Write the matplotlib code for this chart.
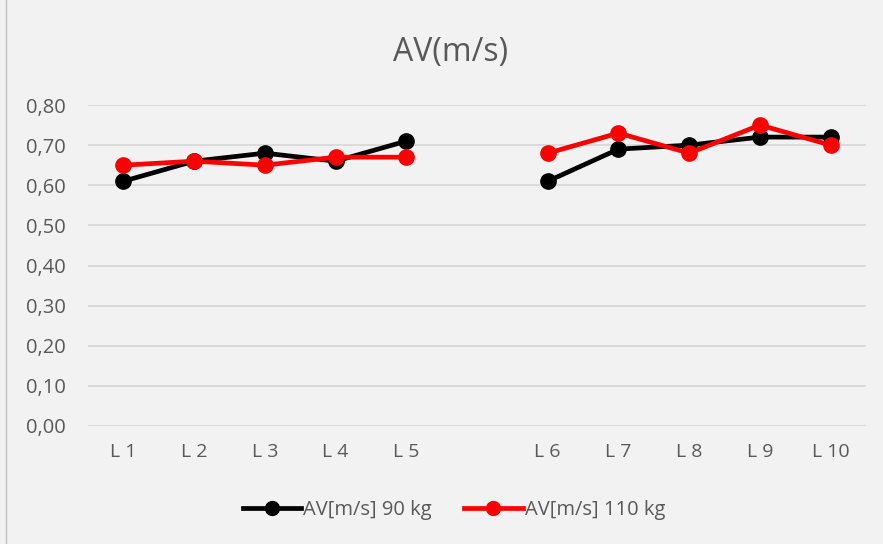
import numpy as np
import matplotlib
matplotlib.use("Agg")
import matplotlib.pyplot as plt
from matplotlib.lines import Line2D

# categories (empty slot between L 5 and L 6 like in the excel sheet)
labels = ["L 1", "L 2", "L 3", "L 4", "L 5", "", "L 6", "L 7", "L 8", "L 9", "L 10"]
av_90 = [0.61, 0.66, 0.68, 0.66, 0.71, np.nan, 0.61, 0.69, 0.70, 0.72, 0.72]
av_110 = [0.65, 0.66, 0.65, 0.67, 0.67, np.nan, 0.68, 0.73, 0.68, 0.75, 0.70]
yticks = [0.0, 0.1, 0.2, 0.3, 0.4, 0.5, 0.6, 0.7, 0.8]

plt.rcParams['font.family'] = ['Open Sans', 'DejaVu Sans']
txt = "#595959"
bg = "#f2f2f2"

fig = plt.figure(figsize=(8.83, 5.44), dpi=100, facecolor=bg)
ax = fig.add_axes([88/883, 1-426/544, (866-88)/883, 321/544])
ax.set_facecolor(bg)

x = np.arange(len(labels))
ax.plot(x, av_90, color="black", lw=3.4, marker="o", ms=11, clip_on=False, zorder=3)
ax.plot(x, av_110, color="#ff0000", lw=3.4, marker="o", ms=11, clip_on=False, zorder=4)

ax.set_xlim(-0.5, len(labels)-0.5)
ax.set_ylim(0, 0.8)
ax.set_yticks(yticks)
ax.set_yticklabels([f"{v:.2f}".replace(".", ",") for v in yticks], color=txt, fontsize=14.5)
ax.set_xticks(x)
ax.set_xticklabels(labels, color=txt, fontsize=14)
ax.tick_params(length=0, pad=12)
ax.tick_params(axis="y", pad=16)
ax.grid(axis="y", color="#d9d9d9", lw=1.3)
ax.set_axisbelow(True)
for s in ax.spines.values():
    s.set_visible(False)

fig.text(451/883, 1-52/544, "AV(m/s)", ha="center", va="center", fontsize=23, color=txt)

# left border of the chart box
fig.add_artist(Line2D([6/883, 6/883], [0, 1], color="#bfbfbf", lw=1))

handles = [Line2D([], [], color="black", lw=3.4, marker="o", ms=10),
           Line2D([], [], color="#ff0000", lw=3.4, marker="o", ms=10)]
fig.legend(handles, ["AV[m/s] 90 kg", "AV[m/s] 110 kg"], loc="center",
           bbox_to_anchor=(454/883, 1-510/544), ncol=2, frameon=False,
           fontsize=14.5, labelcolor=txt, handlelength=2.9, handletextpad=0.1,
           columnspacing=1.6)

fig.savefig("out.png", dpi=100, facecolor=bg)
